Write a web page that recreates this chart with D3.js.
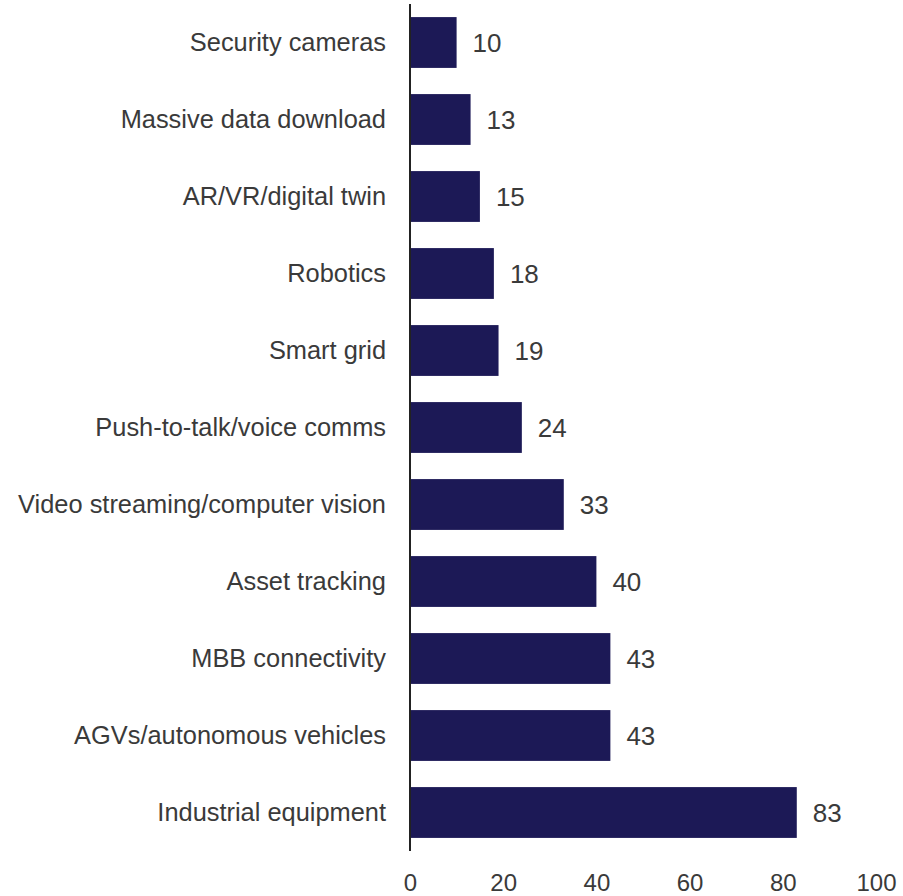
<!DOCTYPE html>
<html>
<head>
<meta charset="utf-8">
<script src="https://cdn.jsdelivr.net/npm/d3@7"></script>
<style>
  html, body { margin: 0; padding: 0; background: #fff; }
  svg { display: block; }
  text { font-family: "Liberation Sans", Arial, sans-serif; fill: #3a3a3a; }
</style>
</head>
<body>
<script>
const categories = [
  "Security cameras",
  "Massive data download",
  "AR/VR/digital twin",
  "Robotics",
  "Smart grid",
  "Push-to-talk/voice comms",
  "Video streaming/computer vision",
  "Asset tracking",
  "MBB connectivity",
  "AGVs/autonomous vehicles",
  "Industrial equipment"
];
const values = [10, 13, 15, 18, 19, 24, 33, 40, 43, 43, 83];
const xTicks = [0, 20, 40, 60, 80, 100];

const W = 903, H = 896;
const svg = d3.select("body").append("svg").attr("width", W).attr("height", H);

const x = d3.scaleLinear().domain([0, 100]).range([410, 876]);
const y = d3.scaleBand().domain(categories).range([4, 851])
  .paddingInner(0.34).paddingOuter(0.17);

// bars
svg.append("g").selectAll("rect").data(values).join("rect")
  .attr("x", x(0))
  .attr("y", (d, i) => y(categories[i]))
  .attr("width", d => x(d) - x(0))
  .attr("height", y.bandwidth())
  .attr("fill", "#1c1956");

// value labels
svg.append("g").selectAll("text").data(values).join("text")
  .attr("x", d => x(d) + 16)
  .attr("y", (d, i) => y(categories[i]) + y.bandwidth() / 2)
  .attr("dy", "0.35em")
  .attr("font-size", 26)
  .text(d => d);

// category labels
svg.append("g").selectAll("text").data(categories).join("text")
  .attr("x", 386)
  .attr("y", d => y(d) + y.bandwidth() / 2)
  .attr("dy", "0.35em")
  .attr("text-anchor", "end")
  .attr("font-size", 25.4)
  .text(d => d);

// vertical axis line
svg.append("line")
  .attr("x1", x(0)).attr("x2", x(0))
  .attr("y1", 4).attr("y2", 851)
  .attr("stroke", "#222").attr("stroke-width", 2);

// x axis tick labels
const xAxis = d3.axisBottom(x).tickValues(xTicks).tickSize(0).tickPadding(0);
const gx = svg.append("g").attr("transform", "translate(0,874)").call(xAxis);
gx.select(".domain").remove();
gx.selectAll("text")
  .attr("font-size", 24)
  .attr("font-family", "Liberation Sans, Arial, sans-serif")
  .attr("fill", "#3a3a3a")
  .attr("dy", "0.35em")
  .attr("y", 9);
</script>
</body>
</html>
